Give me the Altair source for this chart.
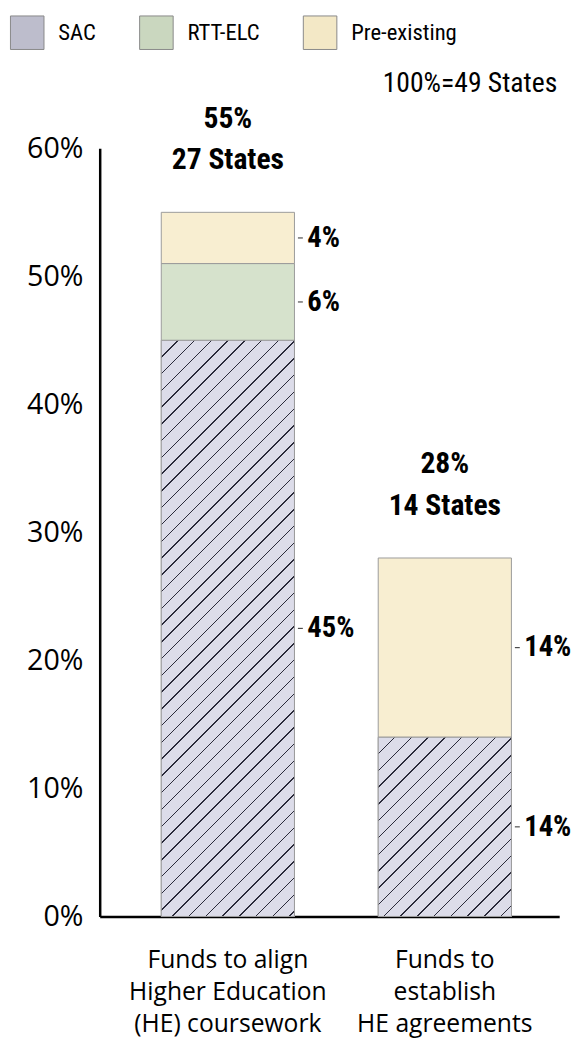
import altair as alt
import pandas as pd

# ---- data ----
categories = ["Funds to align\nHigher Education\n(HE) coursework",
              "Funds to\nestablish\nHE agreements"]
sources = ["SAC", "RTT-ELC", "Pre-existing"]
sac_values = [45, 14]
rtt_values = [6, 0]
pre_values = [4, 14]
totals = [55, 28]
states = [27, 14]
y_ticks = [0, 10, 20, 30, 40, 50, 60]
note = ["100%=49 States"]

# ---- style ----
COND = "Roboto Condensed, Roboto, sans-serif"
REG = "Open Sans, Noto Sans, sans-serif"
colors = ["#dcdce9", "#d6e2cc", "#f8eed1"]
legend_colors = ["#bdbdcc", "#cad7bf", "#f3e8c6"]
PLOT_W, PLOT_H = 466, 779
P_IN, P_OUT, ALIGN = 0.386, 0.252, 0.563
step = PLOT_W / (len(categories) - P_IN + 2 * P_OUT)
bandwidth = step * (1 - P_IN)
px_per_unit = PLOT_H / 60.0


def hatch(W, H, spacing, lw, bg, fg):
    L = W + H
    stops = [{"offset": 0, "color": bg}]
    k = 1
    while k * spacing < L:
        c = k * spacing / L
        h = lw / 2 / L
        stops += [{"offset": c - h, "color": bg}, {"offset": c - h, "color": fg},
                  {"offset": c + h, "color": fg}, {"offset": c + h, "color": bg}]
        k += 1
    stops.append({"offset": 1, "color": bg})
    d = W * W + H * H
    return {"gradient": "linear", "x1": 0, "y1": 0,
            "x2": (W + H) * W / d, "y2": (W + H) * H / d, "stops": stops}


rows = []
for i, cat in enumerate(categories):
    base = 0
    for j, (src, vals) in enumerate(zip(sources, [sac_values, rtt_values, pre_values])):
        v = vals[i]
        if v > 0:
            rows.append({"category": cat, "cat_idx": i, "source": src, "order": j,
                         "value": v, "y0": base, "y1": base + v, "mid": base + v / 2,
                         "label": f"{v}%"})
        base += v
df = pd.DataFrame(rows)
tot_df = pd.DataFrame({"category": categories, "total": totals,
                       "pct": [f"{t}%" for t in totals],
                       "st": [f"{s} States" for s in states]})
note_df = pd.DataFrame({"note": note})

xscale = alt.Scale(domain=categories, paddingInner=P_IN, paddingOuter=P_OUT, align=ALIGN)
yscale = alt.Scale(domain=[0, 60], nice=False)

x_axis = alt.Axis(labelExpr="split(datum.label, '\\n')", labelAngle=0,
                  labelAlign="center", labelFont=REG, labelFontSize=25,
                  labelLineHeight=32.5, labelLimit=400, labelColor="#000",
                  labelPadding=32, labelBaseline="top", domainColor="#000",
                  domainWidth=2.5, ticks=False, title=None)
x_enc = alt.X("category:N", scale=xscale, sort=categories, axis=x_axis)
y_axis = alt.Axis(values=y_ticks, labelExpr="datum.value + '%'",
                  labelFont=REG, labelFontSize=29, labelColor="#000",
                  labelPadding=17, domainColor="#000", domainWidth=2.5,
                  ticks=False, grid=False, title=None)

legend = alt.Legend(
    title=None, orient="none", legendX=-91, legendY=-135, direction="horizontal",
    symbolType="square", symbolSize=1156, symbolStrokeColor="#888",
    symbolStrokeWidth=1, labelFont=COND, labelFontSize=23, labelColor="#000",
    labelOffset=14, columnPadding=41, symbolOpacity=1)

# legend-only layer (invisible geometry, drives the legend swatches)
legend_layer = alt.Chart(df).mark_bar(opacity=0).encode(
    x=x_enc, y=alt.Y("y1:Q", scale=yscale, axis=y_axis), y2="y0:Q",
    color=alt.Color("source:N", scale=alt.Scale(domain=sources, range=legend_colors),
                    legend=legend),
)

bars = alt.Chart(df).mark_bar(stroke="#9a9a9a", strokeWidth=1).encode(
    x=x_enc, y=alt.Y("y1:Q", scale=yscale, axis=y_axis), y2="y0:Q",
    fill=alt.Fill("source:N", scale=alt.Scale(domain=sources, range=colors), legend=None),
)

layers = [legend_layer, bars]
for i in range(len(categories)):
    H = sac_values[i] * px_per_unit
    g = hatch(bandwidth, H, 17, 1.5, colors[0], "#2a2a3a")
    layers.append(
        alt.Chart(df).transform_filter(
            f"datum.source === 'SAC' && datum.cat_idx === {i}"
        ).mark_bar(fill=g, stroke="#9a9a9a", strokeWidth=1).encode(
            x=x_enc, y=alt.Y("y1:Q", scale=yscale, axis=y_axis), y2="y0:Q")
    )

dash = alt.Chart(df).mark_tick(orient="horizontal", size=5, thickness=1.2,
                               color="#000", xOffset=bandwidth / 2 + 6).encode(
    x=x_enc, y=alt.Y("mid:Q", scale=yscale, axis=y_axis))
seg_labels = alt.Chart(df).mark_text(align="left", baseline="middle", dx=13,
                                     font=COND, fontSize=29, fontWeight="bold",
                                     color="#000").encode(
    x=alt.X("category:N", scale=xscale, sort=categories, bandPosition=1, axis=x_axis),
    y=alt.Y("mid:Q", scale=yscale, axis=y_axis), text="label:N")

top1 = alt.Chart(tot_df).mark_text(baseline="alphabetic", dy=-86, font=COND,
                                   fontSize=30, fontWeight="bold", color="#000").encode(
    x=x_enc, y=alt.Y("total:Q", scale=yscale, axis=y_axis), text="pct:N")
top2 = alt.Chart(tot_df).mark_text(baseline="alphabetic", dy=-44, font=COND,
                                   fontSize=30, fontWeight="bold", color="#000").encode(
    x=x_enc, y=alt.Y("total:Q", scale=yscale, axis=y_axis), text="st:N")

note_text = alt.Chart(note_df).mark_text(align="right", baseline="middle", font=COND,
                                         fontSize=28, color="#000").encode(
    x=alt.value(PLOT_W - 2), y=alt.value(-65), text="note:N")

chart = alt.layer(*layers, dash, seg_labels, top1, top2, note_text).properties(
    width=PLOT_W, height=PLOT_H,
    autosize=alt.AutoSizeParams(type="none"),
    padding={"left": 93, "top": 135, "right": 14, "bottom": 120},
).configure_view(stroke=None)

chart.save("out.html", embed_options={"renderer": "svg", "actions": False})
